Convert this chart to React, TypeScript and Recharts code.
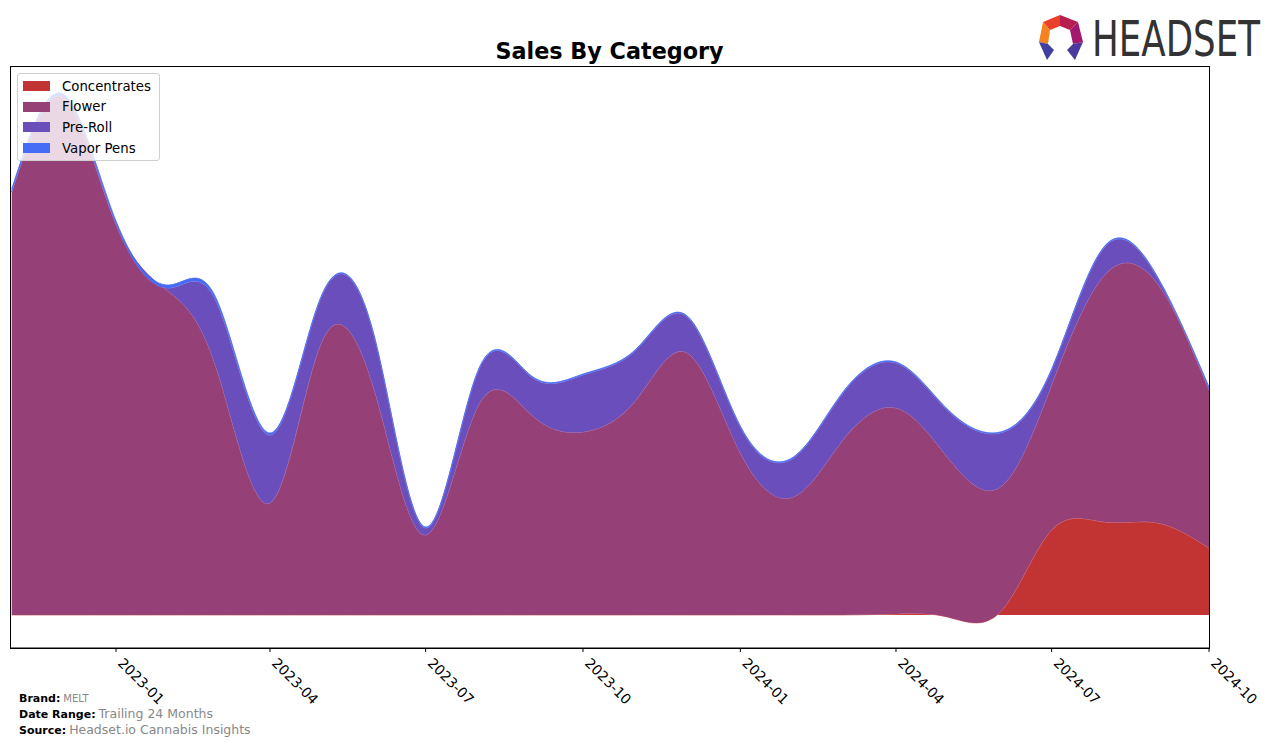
import React from "react";
import { AreaChart, Area, XAxis, YAxis } from "recharts";

const months = [
  "2022-11", "2022-12", "2023-01", "2023-02", "2023-03", "2023-04",
  "2023-05", "2023-06", "2023-07", "2023-08", "2023-09", "2023-10",
  "2023-11", "2023-12", "2024-01", "2024-02", "2024-03", "2024-04",
  "2024-05", "2024-06", "2024-07", "2024-08", "2024-09", "2024-10",
];

const concentrates = [0, 0, 0, 0, 0, 0, 0, 0, 0, 0, 0, 0, 0, 0, 0, 0, 0, 1, -2, 3, 85, 93, 92, 67];
const flower = [423, 518, 391, 323, 245, 112, 272, 225, 80, 210, 200, 183, 215, 262, 162, 118, 175, 206, 160, 125, 145, 247, 239, 158];
const preRoll = [0, 0, 0, 4, 67, 68, 46, 53, 7, 35, 38, 57, 50, 36, 26, 39, 47, 45, 47, 54, 15, 28, 6, 2];
const vaporPens = [3, 3, 3, 3, 3, 2, 1, 1, 1, 1, 1, 1, 1, 1, 1, 1, 1, 1, 1, 1, 1, 1, 1, 1];

const tickLabels = ["2023-01", "2023-04", "2023-07", "2023-10", "2024-01", "2024-04", "2024-07", "2024-10"];

const seriesNames = ["Concentrates", "Flower", "Pre-Roll", "Vapor Pens"];
const seriesColors = ["#c23434", "#954077", "#6a4ebc", "#466cf5"];
const seriesStrokes = ["#e07070", "#b86f9f", "#8f80d8", "#466cf5"];

const DAY = 86400000;
const toTs = (m: string) => {
  const [y, mo] = m.split("-").map(Number);
  return Date.UTC(y, mo - 1, 1);
};

const data = months.map((m, i) => ({
  t: toTs(m),
  Concentrates: concentrates[i],
  Flower: flower[i],
  "Pre-Roll": preRoll[i],
  "Vapor Pens": vaporPens[i],
}));

const ticks = tickLabels.map(toTs);
const labelByTs: Record<number, string> = {};
tickLabels.forEach((l) => (labelByTs[toTs(l)] = l));

const FONT = "'DejaVu Sans', Verdana, sans-serif";

const PLOT = { left: 10, top: 66, right: 1209, bottom: 648 };

const TickLabel = (props: any) => {
  const { x, y, payload } = props;
  return (
    <g transform={`translate(${x + 1},${y + 10})`}>
      <text x={0} y={0} transform="rotate(45)" textAnchor="start" fontSize={14} fontFamily={FONT} fill="#000">
        {labelByTs[payload.value]}
      </text>
    </g>
  );
};

const LegendBox = () => (
  <div
    style={{
      position: "absolute",
      left: 17,
      top: 73,
      width: 141,
      height: 86,
      boxSizing: "content-box",
      background: "rgba(255,255,255,0.8)",
      border: "1px solid #d0d0d0",
      borderRadius: 3,
      fontFamily: FONT,
      fontSize: 13.3,
      color: "#000",
    }}
  >
    {seriesNames.map((n, i) => (
      <div
        key={n}
        style={{ position: "absolute", left: 5, top: 2 + i * 20.7, height: 20, display: "flex", alignItems: "center" }}
      >
        <span
          style={{
            display: "inline-block",
            width: 27,
            height: 10,
            background: seriesColors[i],
            marginRight: 12,
          }}
        />
        <span style={{ whiteSpace: "nowrap" }}>{n}</span>
      </div>
    ))}
  </div>
);

export default function App() {
  return (
    <div style={{ position: "absolute", left: 0, top: 0, width: 1276, height: 746, background: "#fff" }}>
      <svg width={1276} height={746} style={{ position: "absolute", left: 0, top: 0 }}>
        <text x={609.5} y={59} textAnchor="middle" fontFamily={FONT} fontWeight="bold" fontSize={22.3} fill="#000">
          Sales By Category
        </text>
        {/* logo */}
        <polygon points="1043,22 1060,15 1060,26 1050,30" fill="#e8402a" />
        <polygon points="1060,15 1078,22 1070,30 1060,26" fill="#b81d4f" />
        <polygon points="1043,22 1050,30 1048,44 1039,42" fill="#f58220" />
        <polygon points="1078,22 1083,42 1073,44 1070,30" fill="#a3186e" />
        <polygon points="1039,42 1048,44 1054,50 1047,60" fill="#3e3f9e" />
        <polygon points="1073,44 1083,42 1075,60 1067,50" fill="#4b3a9c" />
        <text transform="translate(1092,56) scale(0.727,1)" x={0} y={0} fontFamily={FONT} fontSize={49} fill="#333">
          HEADSET
        </text>
        {/* footer */}
        <text x={19} y={702} fontFamily={FONT} fontSize={11}>
          <tspan fontWeight="bold" fill="#000">Brand:</tspan>
          <tspan fill="#888" fontSize={10} dx={3}>MELT</tspan>
        </text>
        <text x={19} y={718} fontFamily={FONT} fontSize={11}>
          <tspan fontWeight="bold" fill="#000">Date Range:</tspan>
          <tspan fill="#888" fontSize={12.5} dx={3}>Trailing 24 Months</tspan>
        </text>
        <text x={19} y={734} fontFamily={FONT} fontSize={11}>
          <tspan fontWeight="bold" fill="#000">Source:</tspan>
          <tspan fill="#888" fontSize={12.5} dx={3}>Headset.io Cannabis Insights</tspan>
        </text>
      </svg>
      <div style={{ position: "absolute", left: 0, top: 0 }}>
        <AreaChart
          width={1276}
          height={746}
          data={data}
          margin={{ top: 66, right: 67, left: 10, bottom: 38 }}
        >
          <XAxis
            dataKey="t"
            type="number"
            scale="time"
            domain={[toTs("2022-11") - DAY, toTs("2024-10")]}
            ticks={ticks}
            tick={<TickLabel />}
            tickSize={4}
            tickMargin={2}
            height={60}
            axisLine={{ stroke: "#000", strokeWidth: 1 }}
            tickLine={{ stroke: "#000", strokeWidth: 1 }}
            allowDataOverflow
          />
          <YAxis type="number" domain={[-33, 549]} hide width={0} allowDataOverflow />
          {seriesNames.map((n, i) => (
            <Area
              key={n}
              dataKey={n}
              stackId="s"
              type="natural"
              fill={seriesColors[i]}
              fillOpacity={1}
              stroke={seriesStrokes[i]}
              strokeWidth={0.8}
              isAnimationActive={false}
              dot={false}
              activeDot={false}
            />
          ))}
        </AreaChart>
      </div>
      <svg width={1276} height={746} style={{ position: "absolute", left: 0, top: 0, pointerEvents: "none" }}>
        <rect
          x={PLOT.left + 0.5}
          y={PLOT.top + 0.5}
          width={PLOT.right - PLOT.left}
          height={PLOT.bottom - PLOT.top}
          fill="none"
          stroke="#000"
          strokeWidth={1}
        />
      </svg>
      <LegendBox />
    </div>
  );
}
